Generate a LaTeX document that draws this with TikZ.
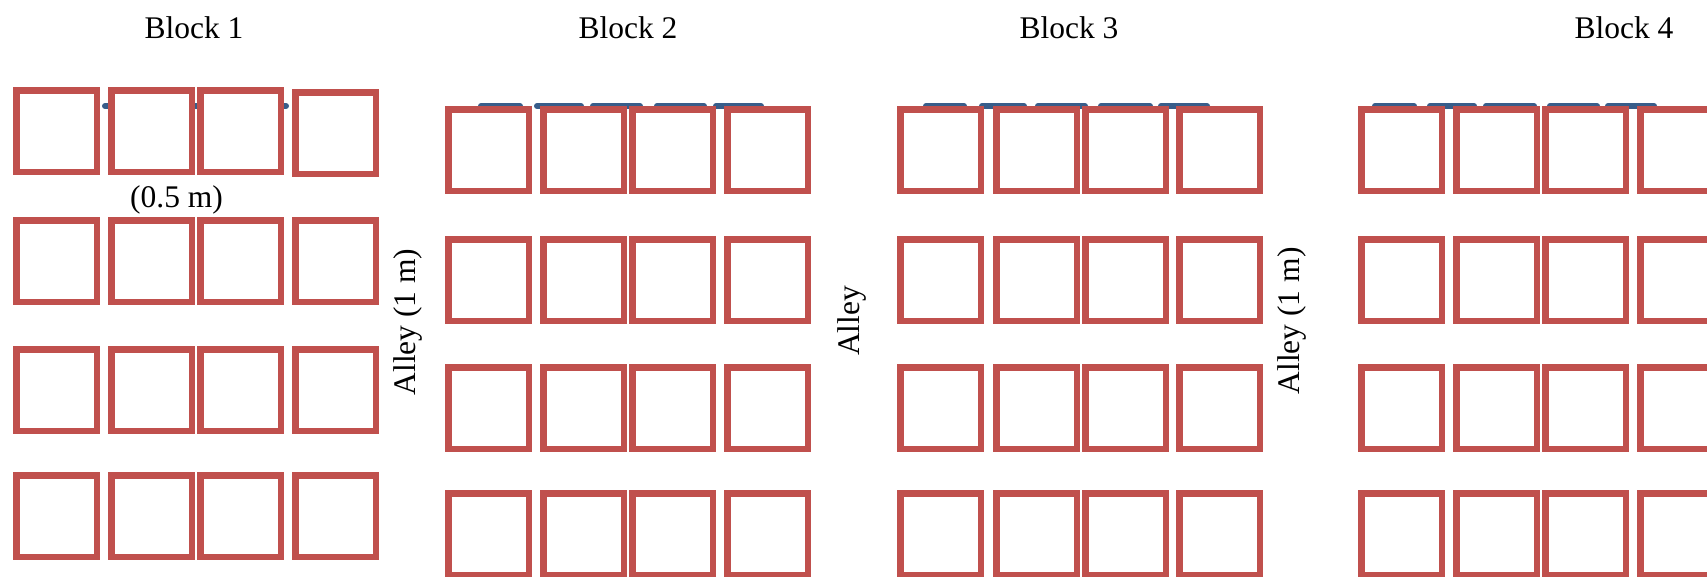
\documentclass[tikz,border=0pt]{standalone}
\usepackage{fontspec}
\setmainfont{Liberation Serif}
\definecolor{plotred}{HTML}{C0504D}
\definecolor{lineblue}{HTML}{385D8A}
\begin{document}
\begin{tikzpicture}[x=1pt,y=-1pt,
  plotbox/.style={draw=plotred, line width=6.5pt, fill=white, minimum width=80.5pt, minimum height=81.5pt, inner sep=0pt, outer sep=0pt},
  wire/.style={draw=lineblue, line width=6pt, line cap=round},
  lbl/.style={font=\fontsize{31.5}{36}\selectfont, inner sep=0pt}]
\useasboundingbox (0,0) rectangle (1707,576);
\clip (0,0) rectangle (1707,576);
% blue lines behind the first row
\foreach \a/\b in {46/91,102/152,158/211,222/289,293/332,
                   478/523,534/584,590/643,654/707,713/764,
                   923/967,979/1027,1035/1088,1098/1153,1158/1210,
                   1372/1417,1427/1477,1483/1537,1547/1600,1605/1657}
  \draw[wire] (\a+3,106) -- (\b-3,106);
% plots
\foreach \bk/\xs/\ys in {1/{13,108,197,292}/{87,217,346,472},
                         2/{445,540,629,724}/{106,236,364,490},
                         3/{897,993,1082,1176}/{106,236,364,490},
                         4/{1358,1453,1542,1637}/{106,236,364,490}} {
  \foreach \x [count=\c] in \xs {
    \foreach \y [count=\r] in \ys {
      \pgfmathsetmacro{\yy}{(\bk==1 && \c==4 && \r==1) ? \y+2 : \y}
      \node[plotbox] (b\bk r\r c\c) at (\x+43.5,\yy+44) {};
    }
  }
}
% labels
\node[lbl, anchor=base] (blk1) at (194,38) {Block 1};
\node[lbl, anchor=base] (blk2) at (628,38) {Block 2};
\node[lbl, anchor=base] (blk3) at (1069,38) {Block 3};
\node[lbl, anchor=base] (blk4) at (1624,38) {Block 4};
\node[lbl, anchor=base] (gap) at (176.5,207) {(0.5 m)};
\node[lbl, anchor=base, rotate=90] (alley1) at (415,322) {Alley (1 m)};
\node[lbl, anchor=base, rotate=90] (alley2) at (859,321) {Alley};
\node[lbl, anchor=base, rotate=90] (alley3) at (1299,321) {Alley (1 m)};
\end{tikzpicture}
\end{document}
